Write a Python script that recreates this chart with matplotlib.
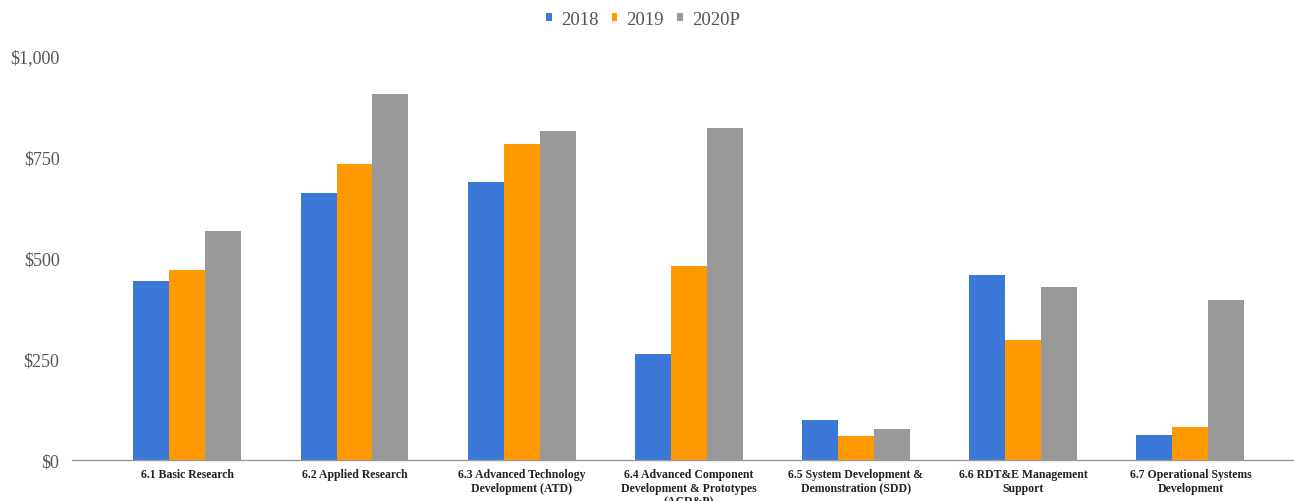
import numpy as np
import matplotlib.pyplot as plt
from matplotlib.ticker import FuncFormatter

categories = [
    "6.1 Basic Research",
    "6.2 Applied Research",
    "6.3 Advanced Technology\nDevelopment (ATD)",
    "6.4 Advanced Component\nDevelopment & Prototypes\n(ACD&P)",
    "6.5 System Development &\nDemonstration (SDD)",
    "6.6 RDT&E Management\nSupport",
    "6.7 Operational Systems\nDevelopment",
]
series_names = ["2018", "2019", "2020P"]
values_2018 = [442, 660, 687, 263, 99, 459, 62]
values_2019 = [471, 732, 782, 479, 60, 298, 82]
values_2020p = [568, 906, 814, 821, 77, 427, 397]
colors = ["#3c78d8", "#ff9900", "#999999"]

plt.rcParams["font.family"] = ["Liberation Serif", "DejaVu Serif"]

fig = plt.figure(figsize=(12.94, 5.02), dpi=100)
ax = fig.add_axes([0.0556, 0.0817, 0.9444, 0.8048])

x = np.arange(len(categories))
width = 0.215
for i, (name, vals) in enumerate(zip(series_names, [values_2018, values_2019, values_2020p])):
    ax.bar(x + (i - 1) * width, vals, width, color=colors[i], label=name, zorder=2)

ax.set_xlim(-0.69, 6.62)
ax.set_ylim(0, 1000)
ax.set_yticks([0, 250, 500, 750, 1000])
ax.yaxis.set_major_formatter(FuncFormatter(lambda v, _: f"${v:,.0f}"))
ax.tick_params(axis="y", length=0, pad=9, labelsize=13, labelcolor="#555555")
ax.tick_params(axis="x", length=0, pad=6)
ax.set_xticks(x)
ax.set_xticklabels(categories, fontsize=8.5, fontweight="bold", color="#222222",
                   linespacing=1.15, va="top")

for side in ["top", "right", "left"]:
    ax.spines[side].set_visible(False)
ax.spines["bottom"].set_color("#999999")
ax.spines["bottom"].set_linewidth(1.0)

fig.legend(loc="upper center", bbox_to_anchor=(0.497, 1.01), ncol=3, frameon=False,
           fontsize=13.5, handlelength=0.3, handleheight=0.3, handletextpad=0.5,
           columnspacing=0.7, labelcolor="#555555")

fig.savefig("out.png", dpi=100)
